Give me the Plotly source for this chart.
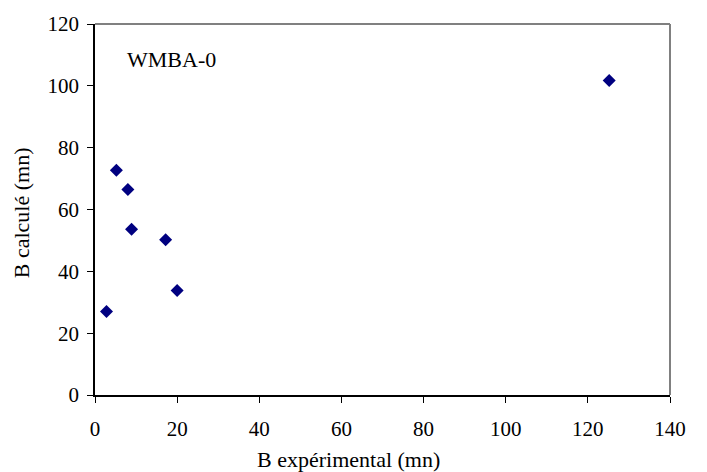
import plotly.graph_objects as go

b_experimental = [2.8, 5.2, 8.0, 8.9, 17.2, 20.0, 125.2]
b_calcule = [27.0, 72.7, 66.5, 53.6, 50.2, 33.8, 101.7]
x_ticks = [0, 20, 40, 60, 80, 100, 120, 140]
y_ticks = [0, 20, 40, 60, 80, 100, 120]
series_label = "WMBA-0"
x_title = "B expérimental (mn)"
y_title = "B calculé (mn)"

FONT = "Liberation Serif"

fig = go.Figure()
fig.add_trace(go.Scatter(
    x=b_experimental, y=b_calcule, mode="markers",
    marker=dict(symbol="diamond", size=10, color="#000080", line=dict(width=0)),
    showlegend=False, cliponaxis=False,
))

fig.update_layout(
    width=707, height=472,
    margin=dict(l=95, r=37, t=22, b=77),
    paper_bgcolor="white", plot_bgcolor="white",
    font=dict(family=FONT, size=21, color="black"),
    shapes=[
        dict(type="line", xref="paper", yref="paper", x0=0, x1=1, y0=1, y1=1,
             line=dict(color="#808080", width=2)),
        dict(type="line", xref="paper", yref="paper", x0=1, x1=1, y0=0, y1=1,
             line=dict(color="#808080", width=2)),
    ],
    annotations=[
        dict(text=series_label, xref="paper", yref="paper", x=0.052, y=0.905,
             xanchor="left", yanchor="middle", showarrow=False,
             font=dict(family=FONT, size=22, color="black")),
        dict(text=x_title, xref="paper", yref="paper", x=0.44, y=0, yshift=-64,
             xanchor="center", yanchor="middle", showarrow=False,
             font=dict(family=FONT, size=22, color="black")),
        dict(text=y_title, xref="paper", yref="paper", x=0, xshift=-74, y=0.49,
             xanchor="center", yanchor="middle", textangle=-90, showarrow=False,
             font=dict(family=FONT, size=22, color="black")),
    ],
)
fig.update_xaxes(
    range=[0, 140], tickvals=x_ticks, ticks="outside", ticklen=6, tickcolor="black",
    showline=True, linecolor="black", linewidth=1.5, showgrid=False, zeroline=False,
    tickfont=dict(family=FONT, size=21), fixedrange=True, ticklabelstandoff=8,
)
fig.update_yaxes(
    range=[0, 120], tickvals=y_ticks, ticks="outside", ticklen=6, tickcolor="black",
    showline=True, linecolor="black", linewidth=1.5, showgrid=False, zeroline=False,
    tickfont=dict(family=FONT, size=21), fixedrange=True, ticklabelstandoff=4,
)

fig.write_html("out.html", config={"displayModeBar": False},
               post_script="document.body.style.margin='0';")
